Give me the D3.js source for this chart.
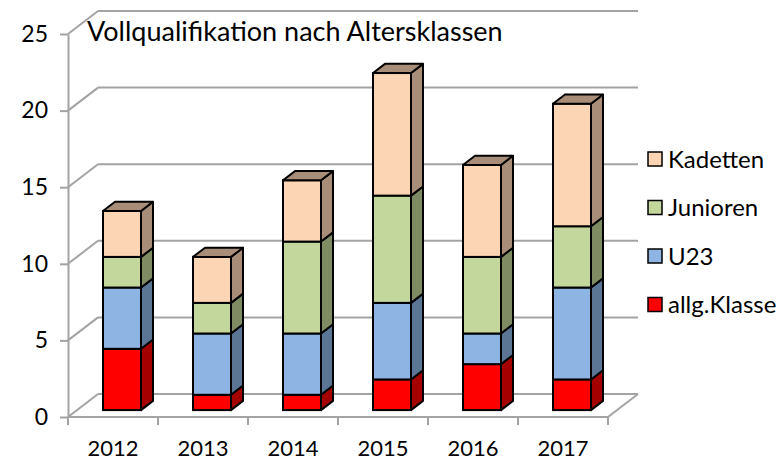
<!DOCTYPE html>
<html>
<head>
<meta charset="utf-8">
<script src="https://cdn.jsdelivr.net/npm/d3@7"></script>
<style>
  body { margin: 0; background: #fff; }
  text { font-family: Lato, "Open Sans", sans-serif; fill: #000; }
</style>
</head>
<body>
<div id="container"></div>
<script>
/* DATA */
const years = ["2012", "2013", "2014", "2015", "2016", "2017"];
const seriesNames = ["allg.Klasse", "U23", "Junioren", "Kadetten"];
const allgKlasse = [4, 1, 1, 2, 3, 2];
const u23 = [4, 4, 4, 5, 2, 6];
const junioren = [2, 2, 6, 7, 5, 4];
const kadetten = [3, 3, 4, 8, 6, 8];
const yTicks = [0, 5, 10, 15, 20, 25];
const title = "Vollqualifikation nach Altersklassen";

/* CONSTANTS */
const width = 783, height = 462;
const frontColors = ["#ff0000", "#8db4e2", "#c3d69b", "#fcd5b4"];
const sideColors = ["#a50000", "#5b7595", "#7f8c63", "#a88d79"];
// full depth of the floor in screen px (oblique projection)
const depthX = 30, depthY = -23;
const barDepthStart = 0.3, barDepthEnd = 0.7;
const barWidthRatio = 38 / 90;

const svg = d3.select("#container")
  .append("svg")
  .attr("width", width)
  .attr("height", height);

// scales
const x = d3.scaleBand().domain(years).range([68, 608]).padding(0);
const y = d3.scaleLinear().domain([0, 25]).range([417, 34]);

// project a (front x, value, depth) point to screen
const proj = (px, v, d) => [px + depthX * d, y(v) + depthY * d];

const grid = "#a3a3a3";

// left wall diagonals + back wall gridlines
yTicks.forEach(t => {
  const [bx, by] = proj(x.range()[0], t, 1);
  svg.append("line")
    .attr("x1", x.range()[0]).attr("y1", y(t))
    .attr("x2", bx).attr("y2", by)
    .attr("stroke", grid).attr("stroke-width", 2);
  svg.append("line")
    .attr("x1", bx).attr("y1", by)
    .attr("x2", x.range()[1] + depthX).attr("y2", by)
    .attr("stroke", grid).attr("stroke-width", 2);
});

// floor front + right edge
svg.append("path")
  .attr("d", d3.line()([
    [x.range()[0], y(0)],
    [x.range()[1], y(0)],
    proj(x.range()[1], 0, 1)
  ]))
  .attr("fill", "none").attr("stroke", grid).attr("stroke-width", 2);

// category tick marks at band edges
const edges = years.map(d => x(d)).concat([x.range()[1]]);
svg.selectAll("line.xtick")
  .data(edges)
  .join("line")
  .attr("class", "xtick")
  .attr("x1", d => d).attr("x2", d => d)
  .attr("y1", y(0)).attr("y2", y(0) + 8)
  .attr("stroke", grid).attr("stroke-width", 2);

// y axis
const yAxis = svg.append("g")
  .attr("transform", `translate(${x.range()[0]},0)`)
  .call(d3.axisLeft(y).tickValues(yTicks).tickSize(8).tickSizeOuter(0).tickPadding(12));
yAxis.select(".domain").attr("stroke", grid).attr("stroke-width", 2);
yAxis.selectAll(".tick line").attr("stroke", grid).attr("stroke-width", 2);
yAxis.selectAll(".tick text")
  .attr("font-size", 23)
  .attr("font-family", "Lato, sans-serif")
  .attr("fill", "#000");

// x labels
svg.selectAll("text.xlabel")
  .data(years)
  .join("text")
  .attr("class", "xlabel")
  .attr("x", d => x(d) + x.bandwidth() / 2)
  .attr("y", 456)
  .attr("text-anchor", "middle")
  .attr("font-size", 22)
  .text(d => d);

// stacked data
const table = years.map((yr, i) => ({
  year: yr,
  "allg.Klasse": allgKlasse[i],
  "U23": u23[i],
  "Junioren": junioren[i],
  "Kadetten": kadetten[i]
}));
const stacked = d3.stack().keys(seriesNames)(table);

// draw bars, one year at a time
const bw = x.bandwidth() * barWidthRatio;
const dd = barDepthEnd - barDepthStart;
years.forEach((yr, i) => {
  const x0 = x(yr) + (x.bandwidth() - bw) / 2;
  const g = svg.append("g");
  stacked.forEach((s, k) => {
    const [v0, v1] = s[i];
    if (v1 === v0) return;
    const a = proj(x0, v0, barDepthStart);
    const b = proj(x0 + bw, v1, barDepthStart);
    // front face
    g.append("rect")
      .attr("x", a[0]).attr("y", b[1])
      .attr("width", b[0] - a[0]).attr("height", a[1] - b[1])
      .attr("fill", frontColors[k])
      .attr("stroke", "#000").attr("stroke-width", 2);
    // side face
    g.append("path")
      .attr("d", d3.line()([
        [b[0], a[1]], [b[0], b[1]],
        [b[0] + depthX * dd, b[1] + depthY * dd],
        [b[0] + depthX * dd, a[1] + depthY * dd]
      ]) + "Z")
      .attr("fill", sideColors[k])
      .attr("stroke", "#000").attr("stroke-width", 2).attr("stroke-linejoin", "round");
    // top face for the topmost segment
    if (k === stacked.length - 1) {
      g.append("path")
        .attr("d", d3.line()([
          [a[0], b[1]], [b[0], b[1]],
          [b[0] + depthX * dd, b[1] + depthY * dd],
          [a[0] + depthX * dd, b[1] + depthY * dd]
        ]) + "Z")
        .attr("fill", sideColors[k])
        .attr("stroke", "#000").attr("stroke-width", 2).attr("stroke-linejoin", "round");
    }
  });
});

// title
svg.append("text")
  .attr("x", 87)
  .attr("y", 41)
  .attr("font-size", 27)
  .text(title);

// legend (reverse order, Kadetten on top)
const legendItems = seriesNames.map((n, k) => ({ name: n, k })).reverse();
const legend = svg.selectAll("g.legend")
  .data(legendItems)
  .join("g")
  .attr("class", "legend")
  .attr("transform", (d, i) => `translate(648, ${159 + i * 48.5})`);
legend.append("rect")
  .attr("x", 0).attr("y", -7)
  .attr("width", 14).attr("height", 14)
  .attr("fill", d => frontColors[d.k])
  .attr("stroke", "#000").attr("stroke-width", 1.5);
legend.append("text")
  .attr("x", 20)
  .attr("y", 0)
  .attr("dy", "0.36em")
  .attr("font-size", 24)
  .text(d => d.name);
</script>
</body>
</html>
